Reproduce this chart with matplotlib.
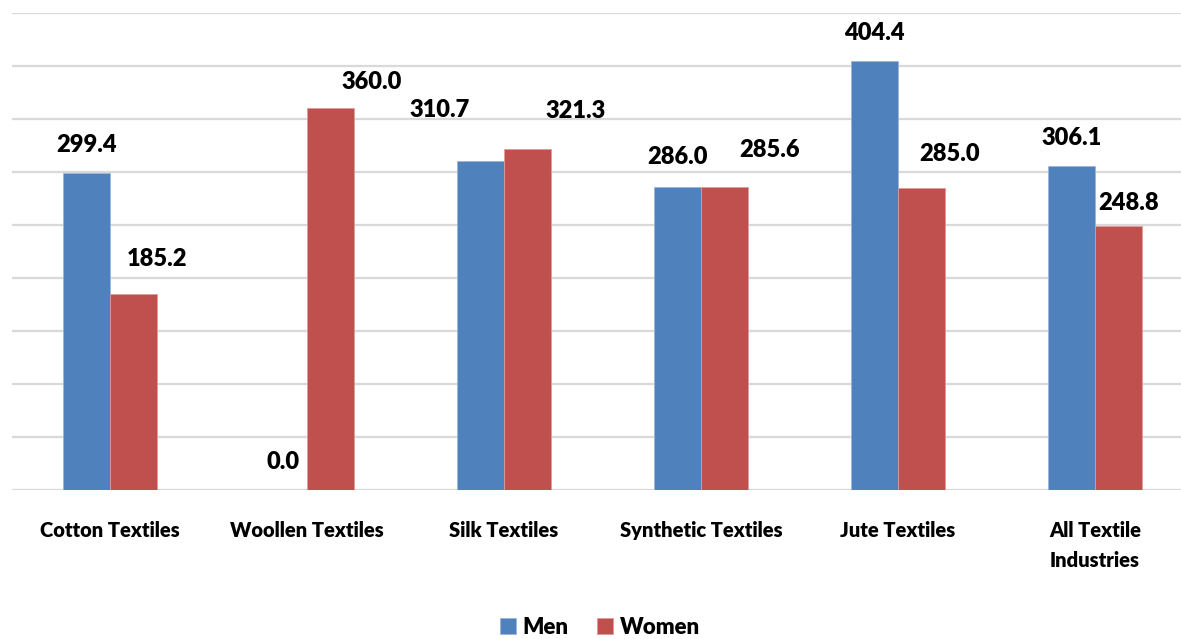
import numpy as np
import matplotlib
matplotlib.use('Agg')
import matplotlib.pyplot as plt

categories = ['Cotton Textiles', 'Woollen Textiles', 'Silk Textiles',
              'Synthetic Textiles', 'Jute Textiles', 'All Textile\nIndustries']
men = [299.4, 0.0, 310.7, 286.0, 404.4, 306.1]
women = [185.2, 360.0, 321.3, 285.6, 285.0, 248.8]

# label nudges in pixels (dx, dy), as placed in the original
men_off = [(0, 17), (0, 17), (-41, 40), (0, 19), (0, 17), (0, 17)]
women_off = [(24, 24), (41, 15), (48, 27), (45, 26), (28, 23), (10, 12)]

blue = '#4F81BD'
red = '#C0504D'
plt.rcParams['font.family'] = ['Lato', 'DejaVu Sans']

fig = plt.figure(figsize=(11.81, 6.39), dpi=100)
ax = fig.add_axes([11.5 / 1181, 149 / 639, 1182 / 1181, 477 / 639])

x = np.arange(len(categories))
w = 0.2386
b1 = ax.bar(x - w / 2, men, w, color=blue, edgecolor='#9DB6D8', linewidth=0.6, label='Men', zorder=3)
b2 = ax.bar(x + w / 2, women, w, color=red, edgecolor='#DC9C9A', linewidth=0.6, label='Women', zorder=3)

for rect, v, off in zip(b1, men, men_off):
    ax.annotate(f'{v:.1f}', (rect.get_x() + rect.get_width() / 2, v),
                xytext=off, textcoords='offset pixels', ha='center', va='bottom',
                fontsize=17, fontweight='heavy', color='black', zorder=4)
for rect, v, off in zip(b2, women, women_off):
    ax.annotate(f'{v:.1f}', (rect.get_x() + rect.get_width() / 2, v),
                xytext=off, textcoords='offset pixels', ha='center', va='bottom',
                fontsize=17, fontweight='heavy', color='black', zorder=4)

ax.set_xlim(-0.5, len(categories) - 0.5)
ax.set_ylim(0, 450)
ax.set_yticks(np.arange(0, 451, 50))
ax.yaxis.grid(True, color='#D9D9D9', linewidth=1.6, zorder=0)
ax.set_axisbelow(True)
ax.tick_params(axis='y', left=False, labelleft=False)
ax.set_xticks(x)
ax.set_xticklabels(categories, fontsize=14.5, fontweight='heavy', linespacing=1.7)
ax.tick_params(axis='x', bottom=False, pad=19)
for s in ax.spines.values():
    s.set_visible(False)

fig.legend(handles=[b1, b2], loc='center', bbox_to_anchor=(600 / 1181, 1 - 627 / 639),
           ncol=2, frameon=False, prop={'size': 16, 'weight': 'heavy'},
           handlelength=0.7, handleheight=0.7, handletextpad=0.3, columnspacing=1.3)

fig.savefig('out.png', dpi=100)
